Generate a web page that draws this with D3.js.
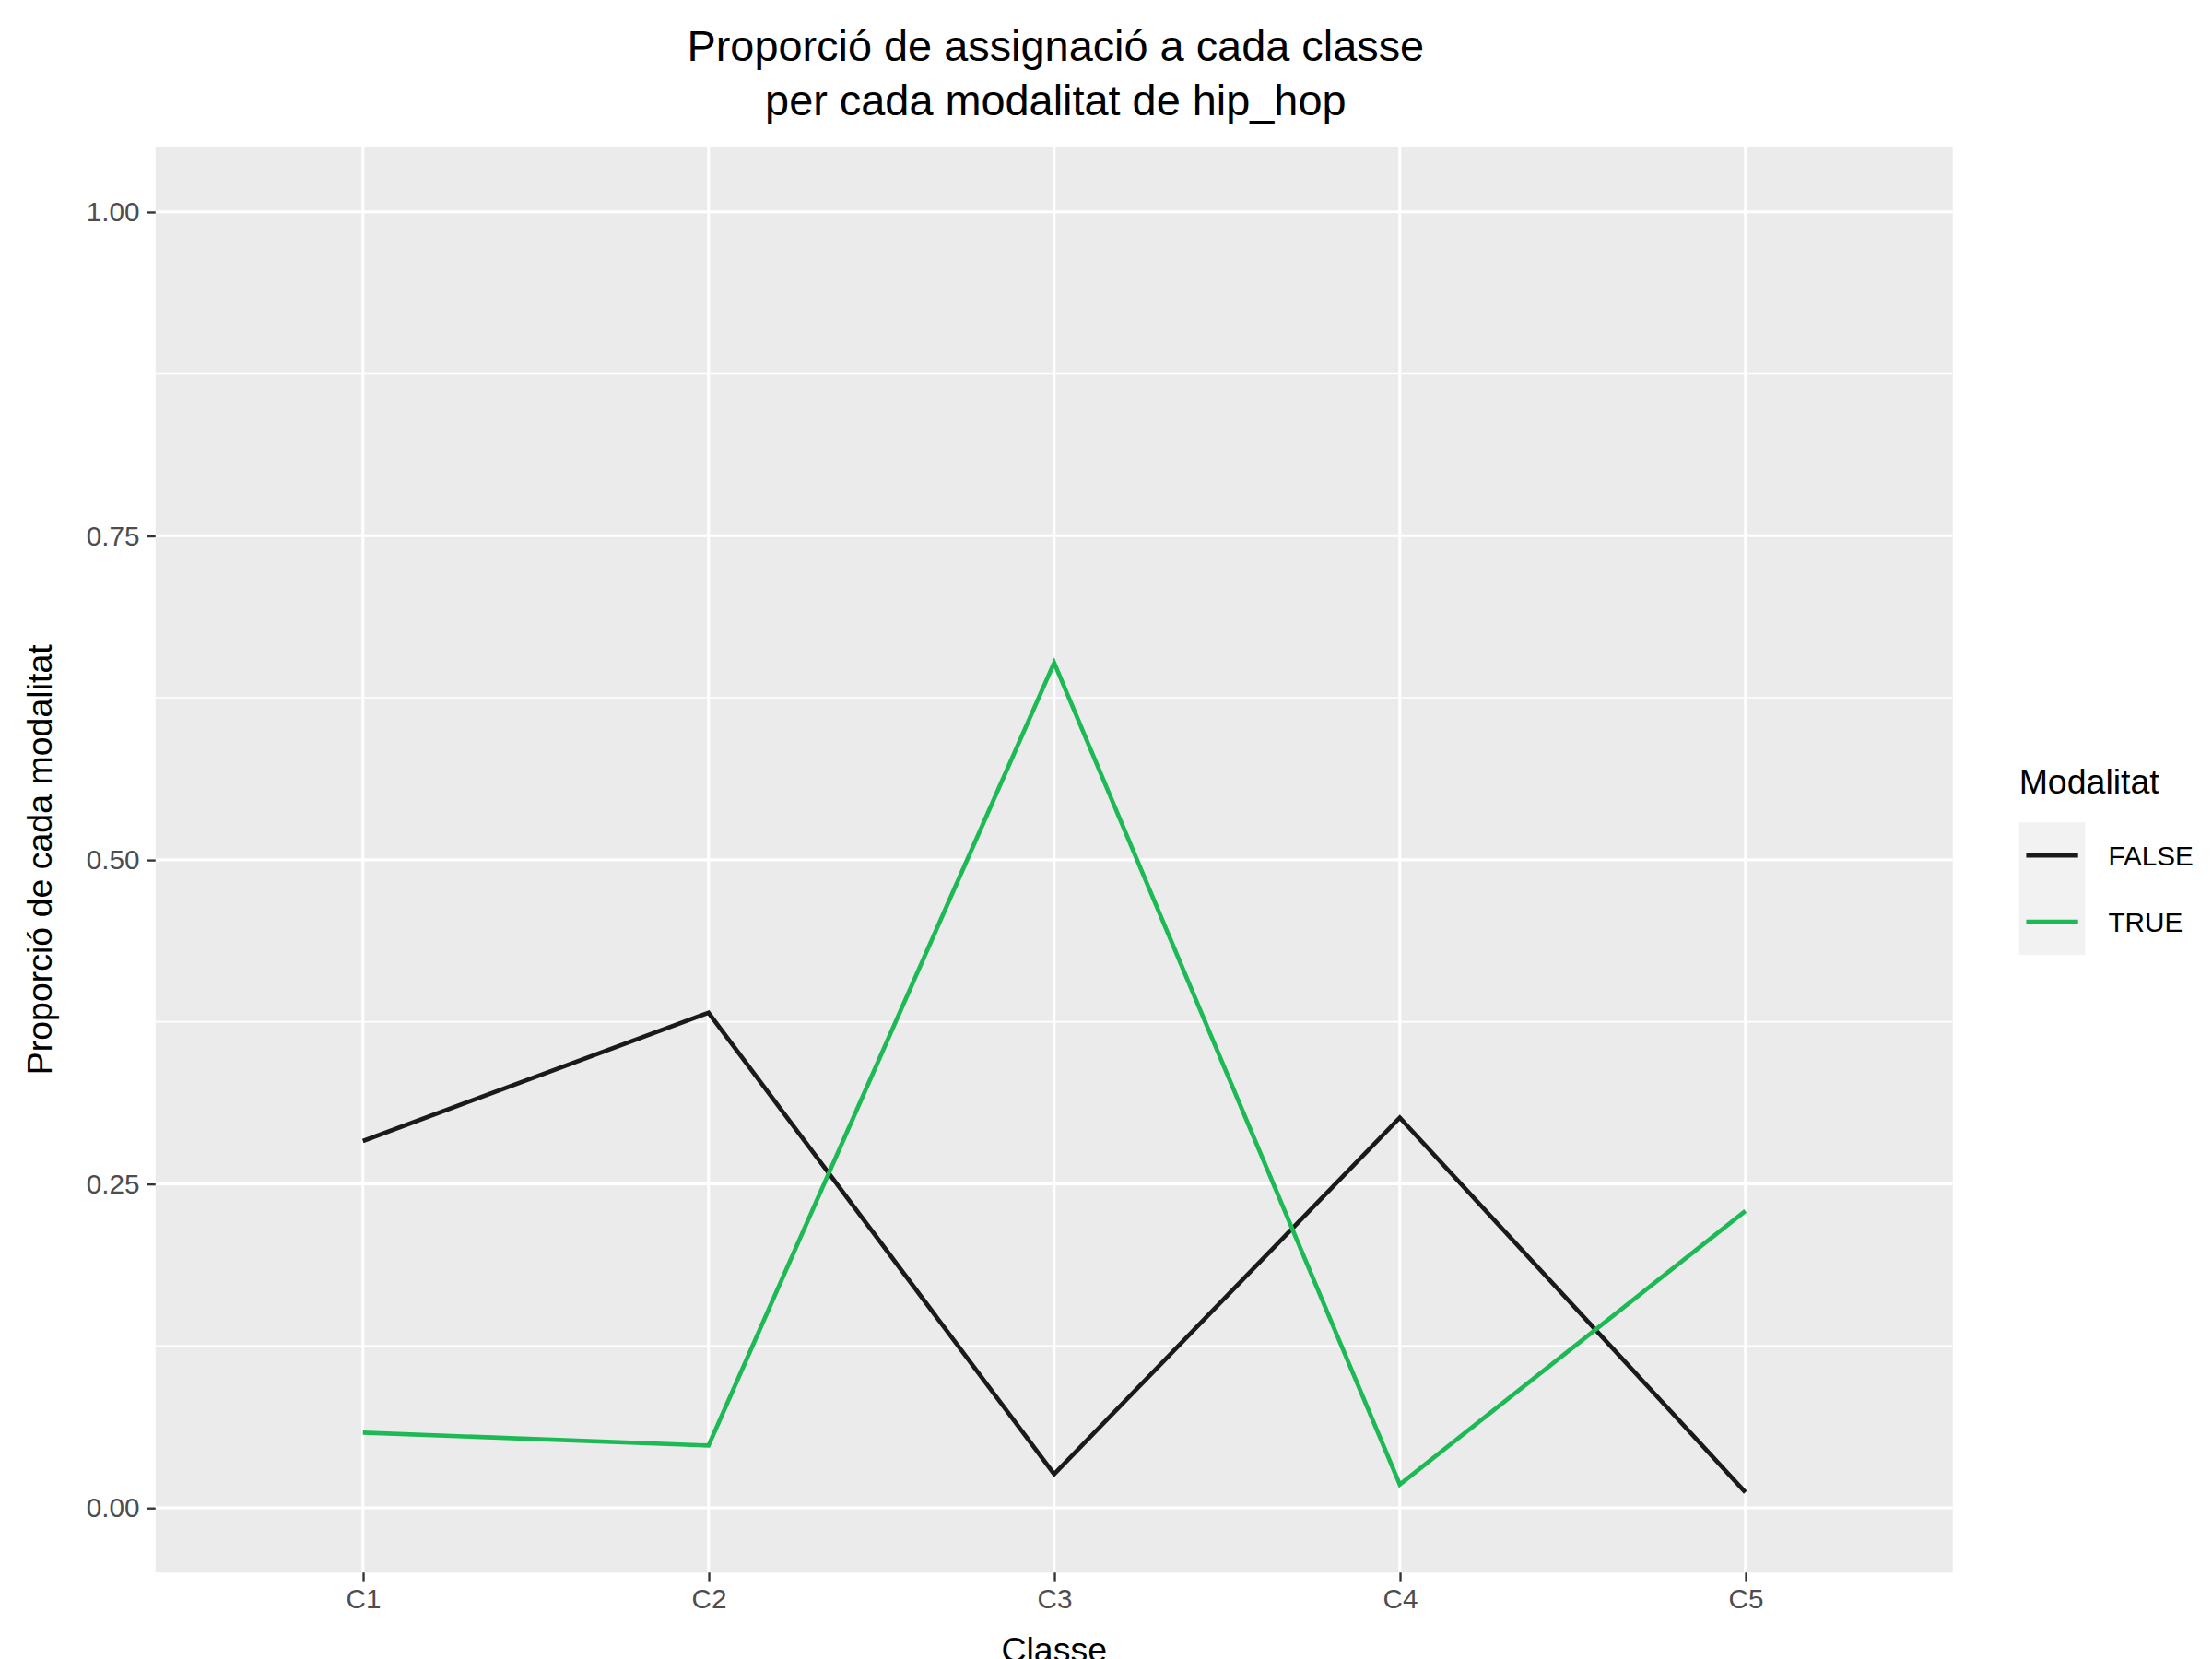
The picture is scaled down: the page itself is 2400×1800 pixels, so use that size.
<!DOCTYPE html>
<html><head><meta charset="utf-8">
<script src="https://cdn.jsdelivr.net/npm/d3@7"></script>
<style>body{margin:0;background:#fff}text{font-family:"Liberation Sans",Arial,sans-serif}</style>
</head><body><svg id="c"></svg>
<script>
var classes = ["C1","C2","C3","C4","C5"];
var falseVals = [0.283,0.382,0.026,0.301,0.012];
var trueVals = [0.058,0.048,0.652,0.018,0.229];
var yTicks = [0,0.25,0.5,0.75,1];
var seriesNames = ["FALSE","TRUE"];
var seriesColors = ["#1a1a1a","#1db954"];

var svg = d3.select("#c").attr("width",2400).attr("height",1800)
  .attr("viewBox","0 0 1536 1152");
var L=108,R=1356,T=102,B=1092;
var x = d3.scaleLinear().domain([0.4,5.6]).range([L,R]);
var y = d3.scaleLinear().domain([-0.05,1.05]).range([B,T]);

svg.append("rect").attr("x",L).attr("y",T).attr("width",R-L).attr("height",B-T).attr("fill","#ebebeb");
// minor grid
var minor = [0.125,0.375,0.625,0.875];
svg.selectAll(".mn").data(minor).enter().append("line")
  .attr("x1",L).attr("x2",R).attr("y1",d=>y(d)).attr("y2",d=>y(d))
  .attr("stroke","#fff").attr("stroke-width",1);
svg.selectAll(".mj").data(yTicks).enter().append("line")
  .attr("x1",L).attr("x2",R).attr("y1",d=>y(d)).attr("y2",d=>y(d))
  .attr("stroke","#fff").attr("stroke-width",2);
svg.selectAll(".vx").data(classes).enter().append("line")
  .attr("x1",(d,i)=>x(i+1)).attr("x2",(d,i)=>x(i+1)).attr("y1",T).attr("y2",B)
  .attr("stroke","#fff").attr("stroke-width",2);

// axes
var ya = svg.append("g").attr("transform","translate("+L+",0)")
  .call(d3.axisLeft(y).tickValues(yTicks).tickFormat(d3.format(".2f")).tickSize(6).tickPadding(5));
var xa = svg.append("g").attr("transform","translate(0,"+B+")")
  .call(d3.axisBottom(x).tickValues([1,2,3,4,5]).tickFormat(d=>classes[d-1]).tickSize(6).tickPadding(5));
[ya,xa].forEach(function(a){
  a.select(".domain").remove();
  a.selectAll("line").attr("stroke","#333").attr("stroke-width",1.5);
  a.selectAll("text").attr("fill","#4d4d4d").style("font-size","19px");
});

// lines
var line = d3.line().x((d,i)=>x(i+1)).y(d=>y(d));
[falseVals,trueVals].forEach(function(v,k){
  svg.append("path").datum(v).attr("d",line).attr("fill","none")
    .attr("stroke",seriesColors[k]).attr("stroke-width",3);
});

// titles
svg.append("text").attr("x",733).attr("y",42).attr("text-anchor","middle").style("font-size","30px")
  .text("Proporció de assignació a cada classe");
svg.append("text").attr("x",733).attr("y",80).attr("text-anchor","middle").style("font-size","30px")
  .text("per cada modalitat de hip_hop");
svg.append("text").attr("x",732).attr("y",1154).attr("text-anchor","middle").style("font-size","24px").text("Classe");
svg.append("text").attr("transform","translate(36,597) rotate(-90)").attr("text-anchor","middle")
  .style("font-size","24px").text("Proporció de cada modalitat");

// legend
svg.append("text").attr("x",1402).attr("y",551).style("font-size","24px").text("Modalitat");
seriesNames.forEach(function(n,k){
  var yy = 571+k*46;
  svg.append("rect").attr("x",1402).attr("y",yy).attr("width",46).attr("height",46).attr("fill","#f2f2f2");
  svg.append("line").attr("x1",1407).attr("x2",1443).attr("y1",yy+23).attr("y2",yy+23)
    .attr("stroke",seriesColors[k]).attr("stroke-width",3);
  svg.append("text").attr("x",1464).attr("y",yy+30).style("font-size","19px").text(n);
});
</script></body></html>
